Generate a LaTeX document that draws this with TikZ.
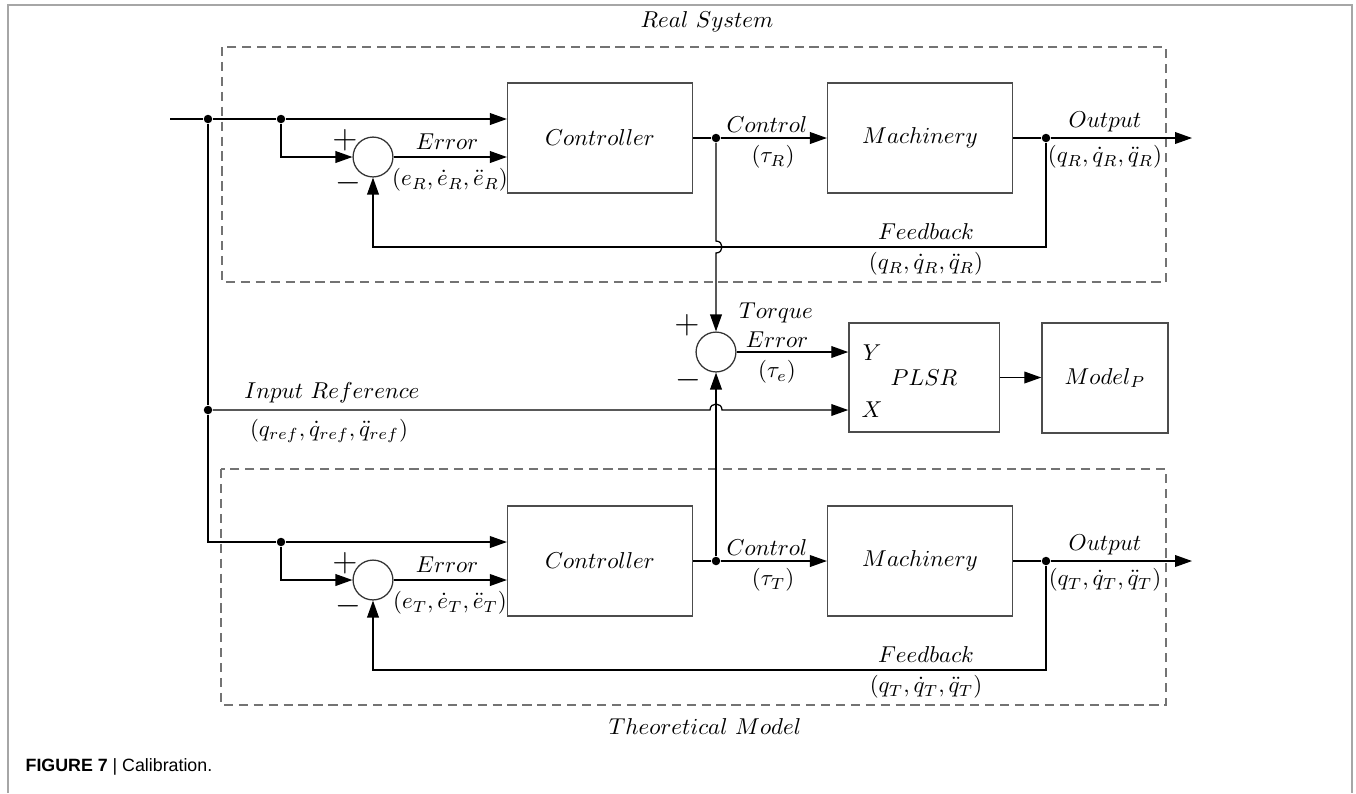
\documentclass[tikz,border=0pt]{standalone}
\usepackage{amsmath}
\usepackage{fontspec}
\usepackage{tikz}
\usetikzlibrary{arrows.meta}
\newfontfamily\capfont{Liberation Sans}

\begin{document}
\begin{tikzpicture}[x=0.0153cm,y=-0.0153cm,line width=0.55pt,
  block/.style={draw=black!70,minimum width=2.83cm,minimum height=1.68cm,inner sep=0pt},
  sumc/.style={draw=black!80,circle,minimum size=0.61cm,inner sep=0pt},
  dotn/.style={circle,fill,inner sep=0pt,minimum size=0.13cm},
  sig/.style={-{Triangle[length=2.6mm,width=1.8mm]}},
  grp/.style={draw=black!55,dash pattern=on 4pt off 2.5pt},
  lab/.style={inner sep=0pt},
  sgn/.style={inner sep=0pt,font=\fontsize{13.5}{16}\selectfont}]
  \useasboundingbox (0,0) rectangle (1356,793);
  \draw[black!35,line width=1pt] (8,793) -- (8,5) -- (1352,5) -- (1352,793);
  \node[lab,anchor=west] (cap) at (25,767) {\capfont\fontsize{7.75}{9}\selectfont\textbf{FIGURE 7} | Calibration.};

  % the two dashed groups
  \draw[grp] (222,47) rectangle (1166,282);
  \node[lab] (realtitle) at (707,22) {$Real\ System$};
  \draw[grp] (221,469) rectangle (1166,705);
  \node[lab] (theotitle) at (705,727) {$Theoretical\ Model$};

  % one control loop per group: R = real, T = theoretical
  \foreach \s/\yo in {R/0,T/423}{
    \node[block] (ctrl\s) at (600,{138+\yo}) {$Controller$};
    \node[block] (mach\s) at (920,{138+\yo}) {$Machinery$};
    \node[sumc] (sum\s) at (373,{157+\yo}) {};
    \node[dotn] (br\s) at (281,{119+\yo}) {};
    \node[dotn] (c\s) at (716,{138+\yo}) {};
    \node[dotn] (o\s) at (1046,{138+\yo}) {};
    \coordinate (end\s) at (1192,{138+\yo});
    \coordinate (fb\s) at (1046,{247+\yo});
    \draw[sig] (br\s) -- (br\s -| ctrl\s.west);
    \draw[sig] (br\s) |- (sum\s.west);
    \draw[sig] (sum\s.east) -- (sum\s.east -| ctrl\s.west);
    \draw (ctrl\s.east) -- (c\s);
    \draw[sig] (c\s) -- (mach\s.west);
    \draw (mach\s.east) -- (o\s);
    \draw[sig] (o\s) -- (end\s);
    \draw[sig] (o\s) -- (fb\s) -| (sum\s.south);
    \node[sgn] (plus\s) at (345,{140+\yo}) {$+$};
    \node[sgn] (minus\s) at (348,{183+\yo}) {$-$};
    \node[lab] (err\s) at (447,{142+\yo}) {$Error$};
    \node[lab] (errv\s) at (450,{180+\yo}) {$(e_\s,\dot e_\s,\ddot e_\s)$};
    \node[lab] (con\s) at (767,{125+\yo}) {$Control$};
    \node[lab] (conv\s) at (773,{157+\yo}) {$(\tau_\s)$};
    \node[lab] (out\s) at (1105,{122+\yo}) {$Output$};
    \node[lab] (outv\s) at (1105,{157+\yo}) {$(q_\s,\dot q_\s,\ddot q_\s)$};
    \node[lab] (fbl\s) at (926,{232+\yo}) {$Feedback$};
    \node[lab] (fbv\s) at (926,{264+\yo}) {$(q_\s,\dot q_\s,\ddot q_\s)$};
  }

  % torque error and regression
  \node[sumc] (tsum) at (716,352) {};
  \node[block,minimum width=2.3cm,minimum height=1.67cm] (plsr) at (924,377.5) {$PLSR$};
  \node[block,minimum width=1.93cm] (model) at (1105,378) {$Model_P$};
  \node[lab] (ylab) at (872,353) {$Y$};
  \node[lab] (xlab) at (872,410) {$X$};
  \node[sgn] (tplus) at (687,325) {$+$};
  \node[sgn] (tminus) at (688,380) {$-$};
  \node[lab] (torq) at (776,313) {$Torque$};
  \node[lab] (terr) at (777,340) {$Error$};
  \node[lab] (tval) at (777,372) {$(\tau_e)$};

  % input reference
  \coordinate (inS) at (170,119);
  \coordinate (inC) at (208,542);
  \node[dotn] (inR) at (208,119) {};
  \node[dotn] (inI) at (208,410) {};
  \node[lab] (inlab) at (332,393) {$Input\ Reference$};
  \node[lab] (inval) at (329,431) {$(q_{ref},\dot q_{ref},\ddot q_{ref})$};
  \draw (inS) -- (inR) -- (brR);
  \draw (inR) -- (inI) -- (inC) -- (brT);

  \draw[sig] (cR) -- (716,241) .. controls (724,241) and (724,253) .. (716,253) -- (tsum.north);
  \draw[sig] (cT) -- (tsum.south);
  \draw[sig] (inI) -- (710,410) .. controls (710,402) and (722,402) .. (722,410) -- (plsr.west |- inI);
  \draw[sig] (tsum.east) -- (plsr.west |- tsum.east);
  \draw[sig] (plsr.east) -- (plsr.east -| model.west);
\end{tikzpicture}
\end{document}
